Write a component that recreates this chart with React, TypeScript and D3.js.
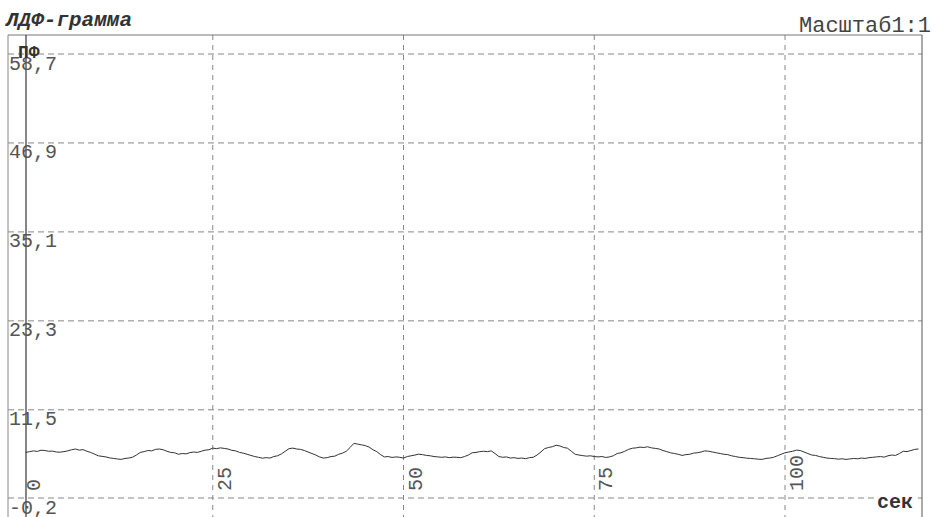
import React from 'react';
import * as d3 from 'd3';

const W = 937;
const H = 517;

// Y-axis tick values (perfusion units) and their printed labels
const yTicks = [58.7, 46.9, 35.1, 23.3, 11.5, -0.2];
const yTickLabels = ['58,7', '46,9', '35,1', '23,3', '11,5', '-0,2'];

// X-axis ticks, seconds
const xTicks = [0, 25, 50, 75, 100];
const xGridTicks = [25, 50, 75, 100];

// LDF trace: perfusion sampled every 0.5 s starting at 0.5 s
const sampleStart = 0.5;
const sampleStep = 0.5;
const flux = [
  5.85, 5.95, 6.05, 5.98, 6.14, 6.1, 6.0, 6.02, 5.9, 5.88,
  5.95, 6.05, 6.2, 6.3, 6.15, 6.22, 6.0, 5.85, 5.62, 5.4,
  5.32, 5.25, 5.12, 5.05, 4.98, 4.92, 5.05, 5.1, 5.22, 5.5,
  5.85, 5.95, 6.1, 6.05, 6.25, 6.3, 6.2, 6.0, 5.85, 5.8,
  5.6, 5.7, 5.65, 5.82, 5.9, 5.85, 6.0, 6.15, 6.2, 6.42,
  6.35, 6.45, 6.38, 6.3, 6.12, 6.05, 5.85, 5.75, 5.6, 5.45,
  5.3, 5.2, 5.08, 5.15, 5.1, 5.3, 5.4, 5.65, 6.0, 6.35,
  6.42, 6.3, 6.25, 6.1, 5.9, 5.7, 5.5, 5.25, 5.1, 5.15,
  5.3, 5.35, 5.6, 5.75, 6.0, 6.5, 7.05, 6.95, 6.85, 6.75,
  6.55, 6.2, 5.95, 5.55, 5.25, 5.3, 5.18, 5.25, 5.2, 5.1,
  5.3, 5.4, 5.5, 5.62, 5.55, 5.45, 5.4, 5.3, 5.25, 5.2,
  5.25, 5.15, 5.22, 5.2, 5.15, 5.3, 5.5, 5.8, 5.85, 5.95,
  6.0, 5.95, 6.05, 5.7, 5.3, 5.2, 5.25, 5.1, 5.15, 5.05,
  5.1, 5.02, 5.15, 5.2, 5.5, 5.9, 6.35, 6.5, 6.6, 6.8,
  6.7, 6.5, 6.4, 6.0, 5.6, 5.5, 5.42, 5.35, 5.4, 5.3,
  5.25, 5.3, 5.18, 5.25, 5.4, 5.7, 5.8, 6.0, 6.25, 6.4,
  6.45, 6.55, 6.5, 6.6, 6.45, 6.38, 6.3, 6.1, 5.95, 5.8,
  5.7, 5.6, 5.45, 5.55, 5.6, 5.75, 5.8, 5.9, 6.05, 6.0,
  5.9, 5.8, 5.7, 5.6, 5.55, 5.4, 5.3, 5.2, 5.15, 5.08,
  5.05, 5.0, 4.95, 4.92, 5.05, 5.1, 5.2, 5.4, 5.6, 5.8,
  5.9, 6.0, 6.15, 6.1, 5.9, 5.7, 5.5, 5.45, 5.3, 5.2,
  5.1, 5.05, 5.02, 4.95, 5.0, 4.92, 4.98, 5.05, 5.0, 5.1,
  5.05, 5.15, 5.2, 5.25, 5.3, 5.22, 5.4, 5.5, 5.45, 5.7,
  6.0, 5.95, 6.1, 6.25, 6.3,
];

const FONT = '"Liberation Mono", "Courier New", monospace';

const frame = { left: 8, right: 922, top: 35, bottom: H };
const axisX = 26;

export default function App() {
  const x = d3.scaleLinear().domain([0, 100]).range([22, 785]);
  const y = d3.scaleLinear().domain([-0.2, 58.7]).range([498, 54]);

  const points = flux.map((v, i) => ({ t: sampleStart + i * sampleStep, v }));
  const line = d3
    .line<{ t: number; v: number }>()
    .x((d) => x(d.t))
    .y((d) => y(d.v));

  return (
    <svg
      width={W}
      height={H}
      style={{ position: 'absolute', left: 0, top: 0, background: '#fff' }}
    >
      <rect x={0} y={0} width={W} height={H} fill="#fff" />

      {/* title and scale caption */}
      <text x={6} y={26} fontFamily={FONT} fontSize={21} fontStyle="italic" fontWeight="bold" fill="#333">
        ЛДФ-грамма
      </text>
      <text x={799} y={32} fontFamily={FONT} fontSize={22} fill="#444">
        Масштаб1:1
      </text>

      {/* horizontal dashed grid */}
      {yTicks.map((v) => (
        <line
          key={'h' + v}
          x1={frame.left}
          x2={frame.right}
          y1={y(v)}
          y2={y(v)}
          stroke="#888"
          strokeWidth={1}
          strokeDasharray="6 4"
        />
      ))}

      {/* vertical dashed grid */}
      {xGridTicks.map((t) => (
        <line
          key={'v' + t}
          x1={x(t)}
          x2={x(t)}
          y1={frame.top}
          y2={frame.bottom}
          stroke="#888"
          strokeWidth={1}
          strokeDasharray="5 5"
        />
      ))}

      {/* frame */}
      <line x1={frame.left} x2={frame.right} y1={frame.top} y2={frame.top} stroke="#777" strokeWidth={1} />
      <line x1={frame.left} x2={frame.left} y1={frame.top} y2={frame.bottom} stroke="#888" strokeWidth={1} />
      <line x1={frame.right} x2={frame.right} y1={frame.top} y2={frame.bottom} stroke="#555" strokeWidth={1} />
      <line x1={axisX} x2={axisX} y1={frame.top} y2={frame.bottom} stroke="#444" strokeWidth={1.3} />

      {/* y tick labels */}
      {yTicks.map((v, i) => (
        <text key={'yl' + v} x={9} y={y(v) + 15.5} fontFamily={FONT} fontSize={20} fill="#555">
          {yTickLabels[i]}
        </text>
      ))}

      {/* x tick labels, rotated */}
      {xTicks.map((t) => (
        <text
          key={'xl' + t}
          transform={`translate(${x(t) + 18},491) rotate(-90)`}
          fontFamily={FONT}
          fontSize={20}
          fill="#555"
        >
          {t}
        </text>
      ))}

      {/* axis names */}
      <text x={18} y={58} fontFamily={FONT} fontSize={18} fontWeight="bold" fill="#333">
        ПФ
      </text>
      <rect x={874} y={494} width={44} height={16} fill="#fff" />
      <text x={877} y={508} fontFamily={FONT} fontSize={20} fontWeight="bold" fill="#333">
        сек
      </text>

      {/* perfusion trace */}
      <path d={line(points) ?? ''} fill="none" stroke="#333" strokeWidth={1} />
    </svg>
  );
}
